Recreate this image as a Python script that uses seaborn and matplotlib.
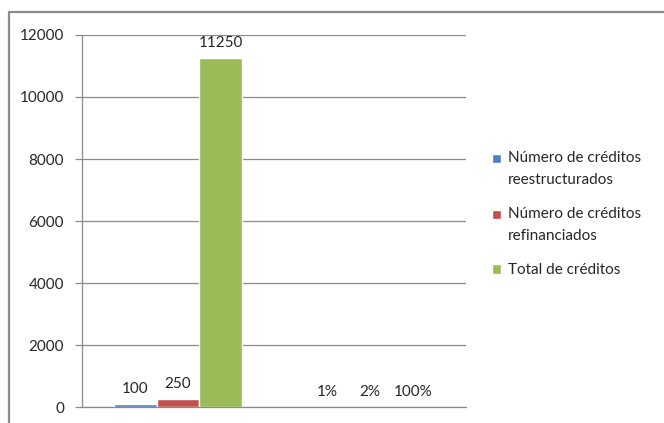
import matplotlib
matplotlib.use("Agg")
import matplotlib.pyplot as plt
import matplotlib.patches as mpatches
from matplotlib.legend_handler import HandlerPatch
import pandas as pd
import seaborn as sns

# Data
categorias = ["Número de créditos", "Porcentaje"]
series = [
    "Número de créditos\nreestructurados",
    "Número de créditos\nrefinanciados",
    "Total de créditos",
]
reestructurados = [100, 0.01]
refinanciados = [250, 0.02]
total = [11250, 1.0]
etiquetas_reestructurados = ["100", "1%"]
etiquetas_refinanciados = ["250", "2%"]
etiquetas_total = ["11250", "100%"]
yticks = [0, 2000, 4000, 6000, 8000, 10000, 12000]

colores = ["#4F81BD", "#C0504D", "#9BBB59"]

df = pd.DataFrame({
    "categoria": categorias * 3,
    "serie": [series[0]] * 2 + [series[1]] * 2 + [series[2]] * 2,
    "valor": reestructurados + refinanciados + total,
})
etiquetas = [etiquetas_reestructurados, etiquetas_refinanciados, etiquetas_total]


class HandlerTopPatch(HandlerPatch):
    """Legend swatch aligned with the first line of a wrapped label."""

    def __init__(self, shift=0.0, **kw):
        super().__init__(**kw)
        self.shift = shift

    def create_artists(self, legend, orig_handle, xdescent, ydescent,
                       width, height, fontsize, trans):
        arts = super().create_artists(legend, orig_handle, xdescent, ydescent,
                                      width, height, fontsize, trans)
        for a in arts:
            a.set_y(a.get_y() + self.shift)
        return arts


sns.set_theme(style="white")
plt.rcParams["font.family"] = ["Lato", "DejaVu Sans"]

W, H = 664, 423
fig = plt.figure(figsize=(W / 100, H / 100), dpi=100)

# Outer chart frame
fig.patches.append(mpatches.Rectangle(
    (8.5 / W, -0.05), 1.1, (H - 12.5) / H + 0.05,
    transform=fig.transFigure, fill=False, edgecolor="#8c8c8c", linewidth=1.6))

left, right, top, bottom = 82, 466, 35, 407
ax = fig.add_axes([left / W, (H - bottom) / H, (right - left) / W, (bottom - top) / H])

sns.barplot(data=df, x="categoria", y="valor", hue="serie", palette=colores,
            saturation=1, width=0.667, ax=ax, legend=True)

for cont, labs in zip(ax.containers, etiquetas):
    ax.bar_label(cont, labels=labs, padding=6, fontsize=11, color="#262626")

ax.set_ylim(0, 12000)
ax.set_yticks(yticks)
ax.set_yticklabels([str(v) for v in yticks], fontsize=11, color="#262626")
ax.set_xlim(-0.5, 1.5)
ax.set_xticks([])
ax.set_xlabel("")
ax.set_ylabel("")
ax.yaxis.grid(True, color="#8a8a8a", linewidth=0.9)
ax.set_axisbelow(True)
for s in ["top", "right"]:
    ax.spines[s].set_visible(False)
for s in ["left", "bottom"]:
    ax.spines[s].set_color("#8a8a8a")
    ax.spines[s].set_linewidth(0.9)
ax.tick_params(axis="y", which="major", direction="out", length=5, width=0.9,
               color="#8a8a8a", pad=8, left=True)

handles, labels = ax.get_legend_handles_labels()
hmap = {h: HandlerTopPatch(shift=8.0 if "\n" in lab else 0.0)
        for h, lab in zip(handles, labels)}
leg = ax.legend(handles, labels, handler_map=hmap,
                loc="upper left", bbox_to_anchor=((486 - left) / (right - left), (bottom - 145) / (bottom - top)),
                frameon=False, fontsize=11, handlelength=0.55, handleheight=0.55,
                handletextpad=0.5, labelspacing=1.3, borderaxespad=0)
for t in leg.get_texts():
    t.set_color("#262626")
    t.set_linespacing(1.75)

fig.savefig("out.png", dpi=100)
